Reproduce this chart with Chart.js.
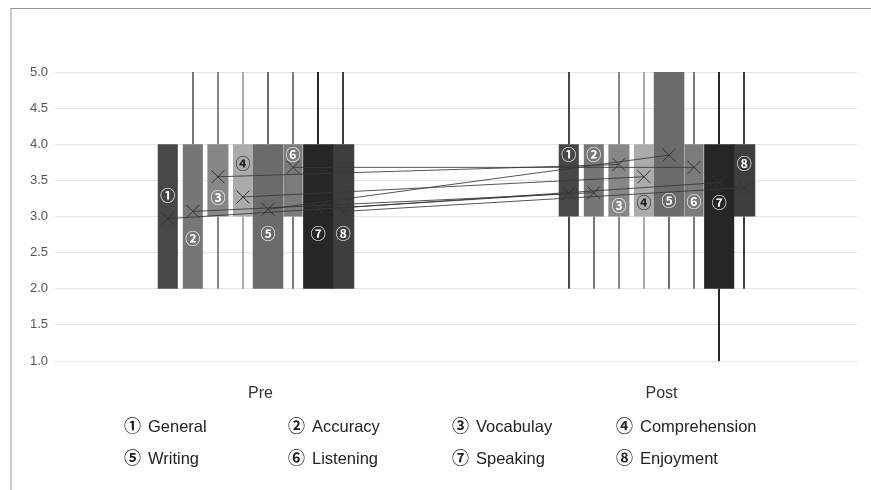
<!DOCTYPE html>
<html>
<head>
<meta charset="utf-8">
<script src="https://cdn.jsdelivr.net/npm/chart.js@4.4.1/dist/chart.umd.min.js"></script>
<style>
  html, body { margin: 0; padding: 0; background: #fff; }
  #wrap { position: relative; width: 871px; height: 490px; overflow: hidden; font-family: "Liberation Sans", Arial, sans-serif; }
  #frame { position: absolute; left: 10px; top: 8px; right: 0; bottom: -2px;
           border-top: 1px solid #959595; border-left: 2px solid #cacaca; }
  #plot { position: absolute; left: 0; top: 0; width: 871px; height: 400px; }
  #legend { position: absolute; left: 0; top: 0; width: 871px; height: 490px; pointer-events: none; }
  .item { position: absolute; height: 22px; line-height: 22px; white-space: nowrap; color: #222; }
  .item .mk { font-family: "Noto Sans CJK KR", sans-serif; font-weight: 700; font-size: 17px; margin-right: 7px; }
  .item .tx { font-size: 16.5px; }
</style>
</head>
<body>
<div id="wrap">
  <div id="frame"></div>
  <div id="plot"><canvas id="chart"></canvas></div>
  <div id="legend"></div>
</div>
<script>
// ── Data ────────────────────────────────────────────────────────────
const categories  = ['Pre', 'Post'];
const seriesNames = ['General', 'Accuracy', 'Vocabulay', 'Comprehension',
                     'Writing', 'Listening', 'Speaking', 'Enjoyment'];
const marks       = ['①', '②', '③', '④', '⑤', '⑥', '⑦', '⑧'];

// each row = one series, [Pre, Post]
const whiskerMin = [[2, 2], [2, 2], [2, 2], [2, 2], [2, 2], [2, 2], [2, 1], [2, 2]];
const q1         = [[2, 3], [2, 3], [3, 3], [3, 3], [2, 3], [3, 3], [2, 2], [2, 3]];
const q3         = [[4, 4], [4, 4], [4, 4], [4, 4], [4, 5], [4, 4], [4, 4], [4, 4]];
const whiskerMax = [[4, 5], [5, 4], [5, 5], [5, 5], [5, 5], [5, 5], [5, 5], [5, 5]];
const means      = [[2.97, 3.32], [3.07, 3.33], [3.55, 3.72], [3.27, 3.55],
                    [3.10, 3.85], [3.68, 3.68], [3.10, 3.47], [3.07, 3.40]];
// where the circled number label sits (y value)
const labelAt    = [[3.29, 3.86], [2.70, 3.86], [3.26, 3.16], [3.74, 3.20],
                    [2.77, 3.22], [3.86, 3.21], [2.77, 3.19], [2.77, 3.73]];

const yTicks = [1.0, 1.5, 2.0, 2.5, 3.0, 3.5, 4.0, 4.5, 5.0];

// ── Styles ──────────────────────────────────────────────────────────
const boxColors = ['#474747', '#777777', '#878787', '#ababab',
                   '#6b6b6b', '#7b7b7b', '#262626', '#3e3e3e'];
const barPct    = [0.8, 0.8, 0.84, 0.8, 1.22, 0.76, 1.2, 0.88];
const labelInk  = ['#fff', '#fff', '#fff', '#1a1a1a', '#fff', '#fff', '#fff', '#fff'];

// ── Whiskers / means / labels ───────────────────────────────────────
const boxExtras = {
  id: 'boxExtras',
  beforeDatasetsDraw(chart) {
    const ctx = chart.ctx, y = chart.scales.y;
    ctx.save();
    ctx.lineWidth = 2;
    seriesNames.forEach((_, i) => {
      const meta = chart.getDatasetMeta(i);
      ctx.strokeStyle = boxColors[i];
      meta.data.forEach((bar, j) => {
        const x = Math.round(bar.x);
        if (whiskerMax[i][j] > q3[i][j]) {
          ctx.beginPath();
          ctx.moveTo(x, y.getPixelForValue(whiskerMax[i][j]));
          ctx.lineTo(x, y.getPixelForValue(q3[i][j]));
          ctx.stroke();
        }
        if (whiskerMin[i][j] < q1[i][j]) {
          ctx.beginPath();
          ctx.moveTo(x, y.getPixelForValue(q1[i][j]));
          ctx.lineTo(x, y.getPixelForValue(whiskerMin[i][j]));
          ctx.stroke();
        }
      });
    });
    ctx.restore();
  },
  afterDatasetsDraw(chart) {
    const ctx = chart.ctx, y = chart.scales.y;
    ctx.save();
    // mean-to-mean lines
    ctx.lineWidth = 1;
    ctx.strokeStyle = 'rgba(55,55,55,0.85)';
    seriesNames.forEach((_, i) => {
      const pts = chart.getDatasetMeta(i).data;
      ctx.beginPath();
      ctx.moveTo(pts[0].x, y.getPixelForValue(means[i][0]));
      ctx.lineTo(pts[1].x, y.getPixelForValue(means[i][1]));
      ctx.stroke();
    });
    // × markers
    ctx.strokeStyle = '#333';
    const s = 6.5;
    seriesNames.forEach((_, i) => {
      chart.getDatasetMeta(i).data.forEach((bar, j) => {
        const cx = bar.x, cy = y.getPixelForValue(means[i][j]);
        ctx.beginPath();
        ctx.moveTo(cx - s, cy - s); ctx.lineTo(cx + s, cy + s);
        ctx.moveTo(cx - s, cy + s); ctx.lineTo(cx + s, cy - s);
        ctx.stroke();
      });
    });
    // circled number labels
    ctx.font = '700 15px "Noto Sans CJK KR", sans-serif';
    ctx.textAlign = 'center';
    ctx.textBaseline = 'middle';
    seriesNames.forEach((_, i) => {
      ctx.fillStyle = labelInk[i];
      chart.getDatasetMeta(i).data.forEach((bar, j) => {
        ctx.fillText(marks[i], bar.x, y.getPixelForValue(labelAt[i][j]));
      });
    });
    ctx.restore();
  }
};

// ── Chart ───────────────────────────────────────────────────────────
const datasets = seriesNames.map((name, i) => ({
  label: name,
  data: categories.map((_, j) => [q1[i][j], q3[i][j]]),
  backgroundColor: boxColors[i],
  borderWidth: 0,
  barPercentage: barPct[i],
  categoryPercentage: 0.5,
}));

new Chart(document.getElementById('chart'), {
  type: 'bar',
  data: { labels: categories, datasets },
  plugins: [boxExtras],
  options: {
    responsive: true,
    maintainAspectRatio: false,
    animation: false,
    layout: { padding: { left: 5, right: 14, top: 72, bottom: 0 } },
    plugins: { legend: { display: false }, tooltip: { enabled: false } },
    scales: {
      x: {
        grid: { display: false },
        border: { display: false },
        ticks: { color: '#333', font: { family: '"Liberation Sans", Arial', size: 16 }, padding: 15, labelOffset: 5 },
        afterFit: s => { s.height = 39; },
      },
      y: {
        min: 1, max: 5,
        grid: { color: '#e4e4e4', lineWidth: 1, drawTicks: false },
        border: { display: false },
        afterBuildTicks: s => { s.ticks = yTicks.map(v => ({ value: v })); },
        ticks: {
          color: '#555',
          font: { family: '"Liberation Sans", Arial', size: 13 },
          padding: 7,
          callback: v => Number(v).toFixed(1),
        },
        afterFit: s => { s.width = 50; },
      },
    },
  },
});

// ── Legend (4 columns x 2 rows) ─────────────────────────────────────
const legend = document.getElementById('legend');
seriesNames.forEach((name, i) => {
  const el = document.createElement('div');
  el.className = 'item';
  el.style.left = (124 + (i % 4) * 164) + 'px';
  el.style.top  = (414 + Math.floor(i / 4) * 32) + 'px';
  el.innerHTML = '<span class="mk">' + marks[i] + '</span><span class="tx">' + name + '</span>';
  legend.appendChild(el);
});
</script>
</body>
</html>
